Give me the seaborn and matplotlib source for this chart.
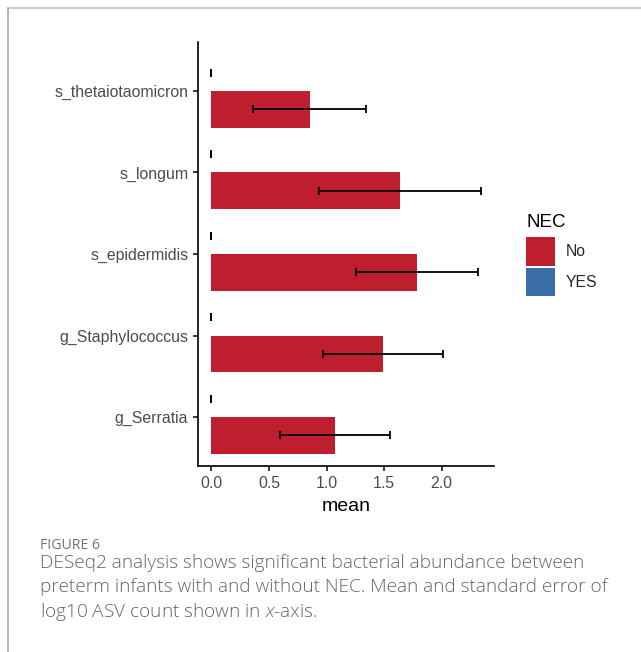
import matplotlib
matplotlib.use("Agg")
import matplotlib.pyplot as plt
from matplotlib.lines import Line2D
from matplotlib.patches import Patch
import pandas as pd
import seaborn as sns

# Taxa (top to bottom) with mean and standard error of log10 ASV count
taxa = ["s_thetaiotaomicron", "s_longum", "s_epidermidis", "g_Staphylococcus", "g_Serratia"]
mean_no = [0.852, 1.638, 1.782, 1.490, 1.072]
se_no = [0.487, 0.700, 0.529, 0.518, 0.477]
mean_yes = [0.0, 0.0, 0.0, 0.0, 0.0]
se_yes = [0.0, 0.0, 0.0, 0.0, 0.0]
groups = ["No", "YES"]
x_ticks = [0.0, 0.5, 1.0, 1.5, 2.0]

colors = {"No": "#BE1E2D", "YES": "#3A6DA8"}

df = pd.DataFrame({
    "taxon": taxa * 2,
    "NEC": ["No"] * len(taxa) + ["YES"] * len(taxa),
    "mean": mean_no + mean_yes,
    "se": se_no + se_yes,
})

sns.set_style("white")
plt.rcParams["font.family"] = ["Liberation Sans", "DejaVu Sans"]
plt.rcParams["mathtext.fontset"] = "custom"
plt.rcParams["mathtext.it"] = "Open Sans:italic:light"

fig = plt.figure(figsize=(6.41, 6.52), dpi=100)
ax = fig.add_axes([198 / 641, 1 - 466 / 652, (494 - 198) / 641, (466 - 42) / 652])

# YES first so that it is dodged above the No bar in each row
sns.barplot(data=df, y="taxon", x="mean", hue="NEC", order=taxa,
            hue_order=["YES", "No"], palette=colors, width=0.9,
            saturation=1, errorbar=None, linewidth=0, legend=False, ax=ax)

# mean ± standard error drawn at the centre of each bar
for cont, level in zip(ax.containers, ["YES", "No"]):
    sub = df[df["NEC"] == level].set_index("taxon").loc[taxa]
    for patch, (_, row) in zip(cont.patches, sub.iterrows()):
        yc = patch.get_y() + patch.get_height() / 2
        ax.errorbar(row["mean"], yc, xerr=row["se"], fmt="none",
                    ecolor="black", elinewidth=1.3, capsize=2.9,
                    capthick=1.3, zorder=5)

ax.set_ylim(len(taxa) - 0.4, -0.6)
ax.set_xlim(-0.117, 2.454)
ax.set_xticks(x_ticks)
ax.set_xticklabels([f"{v:.1f}" for v in x_ticks])
ax.set_xlabel("mean", fontsize=14, color="black", labelpad=5)
ax.set_ylabel("")

for side in ["top", "right"]:
    ax.spines[side].set_visible(False)
for side in ["left", "bottom"]:
    ax.spines[side].set_color("black")
    ax.spines[side].set_linewidth(1.2)
ax.tick_params(axis="both", which="both", length=3.5, width=1.1,
               color="black", labelcolor="#4D4D4D", labelsize=11.4, pad=3.5,
               left=True, bottom=True)

# legend: title as its own text, keys below it
fig.text(527 / 641, 1 - 227 / 652, "NEC", fontsize=13.5, color="black",
         va="baseline", ha="left")
handles = [Patch(facecolor=colors[g], edgecolor="none", label=g) for g in groups]
leg = fig.legend(handles=handles, loc="upper left",
                 bbox_to_anchor=(518 / 641, 1 - 229 / 652), frameon=False,
                 fontsize=11.3, handlelength=1.85,
                 handleheight=2.45, labelspacing=0.12, handletextpad=0.7,
                 borderpad=0)

# caption below the chart
fig.text(40 / 641, 1 - 549 / 652, "FIGURE 6", fontsize=10.2, color="#737373",
         family=["Open Sans", "DejaVu Sans"], va="baseline")
caption = [
    "DESeq2 analysis shows significant bacterial abundance between",
    "preterm infants with and without NEC. Mean and standard error of",
    "log10 ASV count shown in $x$-axis.",
]
for i, line in enumerate(caption):
    fig.text(40 / 641, 1 - (568 + 24.5 * i) / 652, line, fontsize=13.7,
             color="#666666", family=["Open Sans", "DejaVu Sans"],
             fontweight="light", va="baseline")

# panel frame
fig.add_artist(Line2D([7.5 / 641, 1], [1 - 7.5 / 652] * 2, color="#CCCCCC", lw=1.5,
                      transform=fig.transFigure))
fig.add_artist(Line2D([7.5 / 641] * 2, [0, 1 - 7.5 / 652], color="#A8A8A8", lw=1.2,
                      transform=fig.transFigure))

fig.savefig("out.png", dpi=100)
